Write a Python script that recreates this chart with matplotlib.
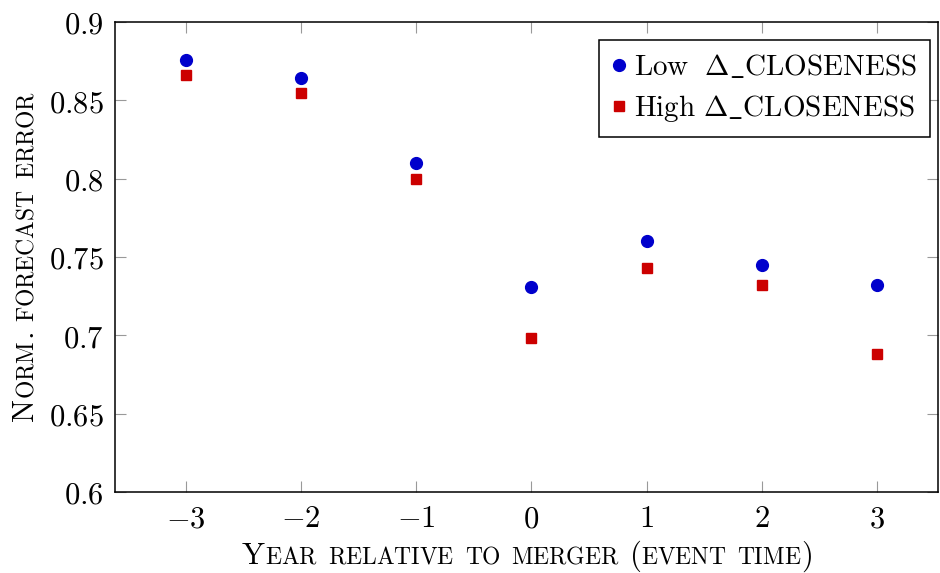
import matplotlib
matplotlib.use("Agg")
import matplotlib.pyplot as plt
from matplotlib.ticker import FixedLocator, FuncFormatter
from matplotlib.transforms import IdentityTransform

plt.rcParams['mathtext.fontset'] = 'cm'
plt.rcParams['font.family'] = 'serif'

# data
years = [-3, -2, -1, 0, 1, 2, 3]
low_closeness = [0.876, 0.864, 0.810, 0.731, 0.760, 0.745, 0.732]
high_closeness = [0.866, 0.855, 0.800, 0.698, 0.743, 0.732, 0.688]
yticks = [0.6, 0.65, 0.7, 0.75, 0.8, 0.85, 0.9]
xlabel = "Year relative to merger (event time)"
ylabel = "Norm. forecast error"
legend_labels = [r"$\mathrm{Low\ \ \Delta\_CLOSENESS}$",
                 r"$\mathrm{High\ \Delta\_CLOSENESS}$"]

FS = 22
W, H = 940, 573

fig = plt.figure(figsize=(W / 100, H / 100), dpi=100)
ax = fig.add_axes([115 / W, 1 - 492 / H, (938 - 115) / W, (492 - 22) / H])

ax.plot(years, low_closeness, 'o', color='#0000cc', markersize=8.5, label=legend_labels[0])
ax.plot(years, high_closeness, 's', color='#cc0000', markersize=7.8, label=legend_labels[1])

ax.set_xlim(-3.616, 3.53)
ax.set_ylim(0.6, 0.9)
ax.xaxis.set_major_locator(FixedLocator(years))
ax.yaxis.set_major_locator(FixedLocator(yticks))
ax.xaxis.set_major_formatter(FuncFormatter(lambda v, p: r"$%d$" % v))
ax.yaxis.set_major_formatter(FuncFormatter(lambda v, p: r"$%g$" % v))
ax.tick_params(direction='in', length=8, width=0.8, color='#999999',
               top=True, right=True, labelsize=FS, pad=8)
for s in ax.spines.values():
    s.set_linewidth(1.1)

leg = ax.legend(loc='upper right', bbox_to_anchor=(0.990, 0.9617), fontsize=21,
                fancybox=False, framealpha=1, edgecolor='black',
                handlelength=0.5, handletextpad=0.25, borderpad=0.45,
                labelspacing=0.4, borderaxespad=0)
leg.get_frame().set_linewidth(1.1)


# small caps built from pieces: capitals at full size, lower case letters as smaller capitals
def pieces(text):
    out = []
    for word in text.split(' '):
        run, small = '', None
        for ch in word:
            is_small = ch.islower()
            if small is not None and is_small != small:
                out.append((run, small))
                run = ''
            run += ch.upper()
            small = is_small
        out.append((run, small))
        out.append((' ', False))
    return out[:-1]


def smallcaps(text, cx, cy, rotation=0):
    renderer = fig.canvas.get_renderer()
    parts = pieces(text)
    widths = []
    for s, small in parts:
        size = FS * 0.77 if small else FS
        if s == ' ':
            widths.append(FS * 100 / 72 * 0.33)
            continue
        t = fig.text(0, 0, r"$\mathrm{%s}$" % s, fontsize=size)
        widths.append(t.get_window_extent(renderer).width)
        t.remove()
    total = sum(widths)
    pos = -total / 2
    for (s, small), w in zip(parts, widths):
        if s != ' ':
            size = FS * 0.77 if small else FS
            if rotation == 0:
                x, y = cx + pos, cy
            else:
                x, y = cx, cy + pos
            fig.text(x, y, r"$\mathrm{%s}$" % s, fontsize=size, transform=IdentityTransform(),
                     ha='left', va='baseline', rotation=rotation, rotation_mode='anchor')
        pos += w


smallcaps(xlabel, 526.5, H - 564)
smallcaps(ylabel, 34, H - 257, rotation=90)

fig.savefig("out.png", dpi=100)
